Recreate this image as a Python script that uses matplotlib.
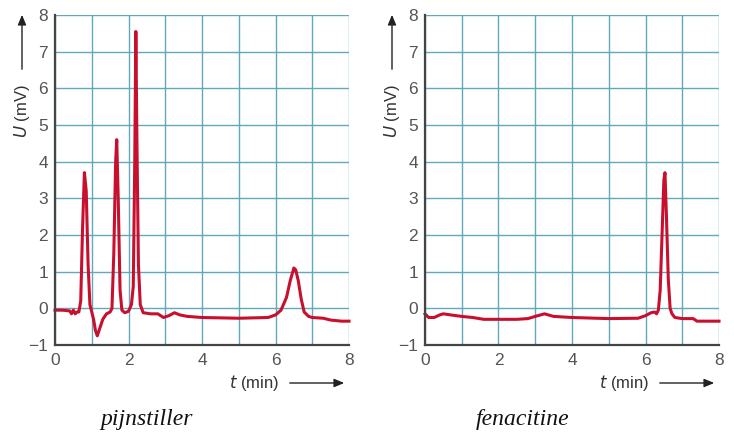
import matplotlib
matplotlib.use("Agg")
import matplotlib.pyplot as plt

# ---- data ----
t_pijn = [0.0, 0.2, 0.4, 0.45, 0.5, 0.55, 0.6, 0.65, 0.7, 0.75, 0.8, 0.85, 0.9, 0.95, 1.0,
          1.05, 1.1, 1.15, 1.2, 1.3, 1.4, 1.5, 1.55, 1.6, 1.65, 1.68, 1.72, 1.77, 1.82, 1.9,
          2.0, 2.08, 2.13, 2.17, 2.2, 2.23, 2.27, 2.32, 2.4, 2.6, 2.8, 2.95, 3.1, 3.25, 3.4,
          3.6, 4.0, 5.0, 5.8, 6.0, 6.15, 6.3, 6.4, 6.5, 6.55, 6.62, 6.7, 6.78, 6.9, 7.0, 7.3,
          7.5, 7.8, 8.0]
u_pijn = [-0.05, -0.05, -0.07, -0.15, -0.05, -0.15, -0.1, -0.1, 0.2, 2.2, 3.7, 3.2, 1.2, 0.1, -0.1,
          -0.3, -0.6, -0.75, -0.6, -0.3, -0.15, -0.1, 0.0, 1.5, 4.0, 4.6, 3.0, 0.5, -0.05, -0.12,
          -0.08, 0.1, 0.6, 4.0, 7.55, 4.5, 1.2, 0.1, -0.12, -0.15, -0.15, -0.25, -0.2, -0.12, -0.18,
          -0.22, -0.25, -0.27, -0.25, -0.18, -0.05, 0.3, 0.75, 1.1, 1.05, 0.75, 0.25, -0.1, -0.22, -0.25, -0.27,
          -0.32, -0.35, -0.35]

t_fena = [0.0, 0.1, 0.25, 0.4, 0.5, 0.7, 1.0, 1.3, 1.6, 2.0, 2.5, 2.8, 3.0, 3.25, 3.5,
          4.0, 5.0, 5.8, 6.0, 6.15, 6.25, 6.3, 6.35, 6.4, 6.45, 6.5, 6.53, 6.57, 6.62, 6.67,
          6.72, 6.8, 7.0, 7.3, 7.4, 8.0]
u_fena = [-0.15, -0.25, -0.25, -0.18, -0.15, -0.18, -0.22, -0.25, -0.3, -0.3, -0.3, -0.28, -0.22, -0.15, -0.22,
          -0.25, -0.28, -0.27, -0.2, -0.12, -0.1, -0.15, -0.05, 0.5, 2.0, 3.5, 3.7, 2.5, 0.8, 0.0,
          -0.15, -0.25, -0.28, -0.28, -0.35, -0.35]

captions = ["pijnstiller", "fenacitine"]
x_tick_labels = ["0", "", "2", "", "4", "", "6", "", "8"]
y_ticks = [-1, 0, 1, 2, 3, 4, 5, 6, 7, 8]
y_tick_labels = ["\u22121", "0", "1", "2", "3", "4", "5", "6", "7", "8"]

plt.rcParams['font.family'] = ['Liberation Sans', 'DejaVu Sans']

fig = plt.figure(figsize=(7.34, 4.34), dpi=100)
W, H = 734, 434
grid_col = '#5fa9b8'
line_col = '#c8102e'
tick_col = '#555555'

panels = [
    (55, t_pijn, u_pijn, captions[0], 147),
    (425, t_fena, u_fena, captions[1], 523),
]

for x0, t, u, cap, capx in panels:
    ax = fig.add_axes([x0 / W, 1 - 345 / H, 294 / W, 330 / H])
    ax.set_xlim(0, 8)
    ax.set_ylim(-1, 8)
    ax.set_xticks(range(0, 9))
    ax.set_xticklabels(x_tick_labels)
    ax.set_yticks(y_ticks)
    ax.set_yticklabels(y_tick_labels)
    ax.grid(True, color=grid_col, lw=1.0)
    ax.set_axisbelow(True)
    ax.tick_params(length=0, labelsize=12.5, labelcolor=tick_col)
    ax.tick_params(axis='x', pad=6)
    ax.tick_params(axis='y', pad=5)
    for s in ['top', 'right']:
        ax.spines[s].set_visible(False)
    for s in ['left', 'bottom']:
        ax.spines[s].set_color('#444444')
        ax.spines[s].set_linewidth(1.6)
    ax.plot(t, u, color=line_col, lw=2.2, solid_joinstyle='round', clip_on=False)

    # y label with arrow
    yx = (x0 - 33) / W
    fig.text(yx, 1 - 111 / H, r"$\it{U}$ (mV)", rotation=90, ha='center', va='center',
             fontsize=12, color='#333333')
    fig.add_artist(matplotlib.patches.FancyArrowPatch(
        (yx, 1 - 72 / H), (yx, 1 - 12 / H), transform=fig.transFigure,
        arrowstyle='-|>,head_length=6,head_width=2.5', color='#222222', lw=1.0))
    # x label with arrow
    fig.text((x0 + 199) / W, 1 - 383 / H, r"$\it{t}$ (min)", ha='center', va='center',
             fontsize=12, color='#333333')
    fig.add_artist(matplotlib.patches.FancyArrowPatch(
        ((x0 + 232) / W, 1 - 383 / H), ((x0 + 292) / W, 1 - 383 / H), transform=fig.transFigure,
        arrowstyle='-|>,head_length=6,head_width=2.5', color='#222222', lw=1.0))
    # caption
    fig.text(capx / W, 1 - 420 / H, cap, ha='center', va='center', fontsize=17,
             style='italic', family=['Liberation Serif', 'DejaVu Serif'], color='#111111')

fig.savefig("out.png", dpi=100)
